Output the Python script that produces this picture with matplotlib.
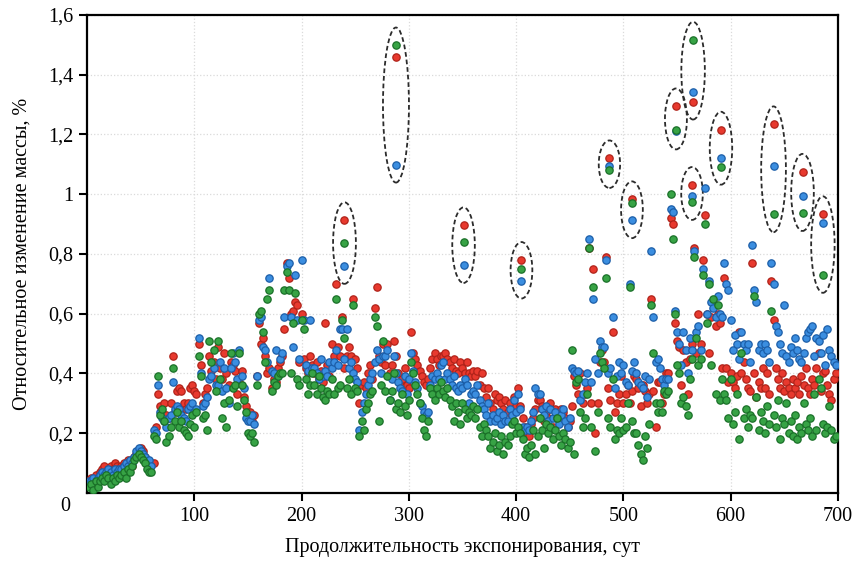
import matplotlib
matplotlib.use("Agg")
import matplotlib.pyplot as plt
from matplotlib.patches import Ellipse

plt.rcParams['font.family'] = ['Liberation Serif', 'DejaVu Serif']

# Measurement days (exposure duration, days)
days = [
    2, 4, 6, 8, 10, 12, 14, 16, 18, 20, 22, 24, 26, 28, 30,
    32, 34, 36, 38, 40, 42, 44, 46, 48, 50, 52, 54, 56, 58, 60,
    62, 64, 66, 68, 70, 72, 74, 76, 78, 80, 82, 84, 86, 88, 90,
    92, 94, 96, 98, 100, 102, 104, 106, 108, 110, 112, 114, 116, 118, 120,
    122, 124, 126, 128, 130, 132, 134, 136, 138, 140, 142, 144, 146, 148, 150,
    152, 154, 156, 158, 160, 162, 164, 166, 168, 170, 172, 174, 176, 178, 180,
    182, 184, 186, 188, 190, 192, 194, 196, 198, 200, 202, 204, 206, 208, 210,
    212, 214, 216, 218, 220, 222, 224, 226, 228, 230, 232, 234, 236, 238, 240,
    242, 244, 246, 248, 250, 252, 254, 256, 258, 260, 262, 264, 266, 268, 270,
    272, 274, 276, 278, 280, 282, 284, 286, 288, 290, 292, 294, 296, 298, 300,
    302, 304, 306, 308, 310, 312, 314, 316, 318, 320, 322, 324, 326, 328, 330,
    332, 334, 336, 338, 340, 342, 344, 346, 348, 350, 352, 354, 356, 358, 360,
    362, 364, 366, 368, 370, 372, 374, 376, 378, 380, 382, 384, 386, 388, 390,
    392, 394, 396, 398, 400, 402, 404, 406, 408, 410, 412, 414, 416, 418, 420,
    422, 424, 426, 428, 430, 432, 434, 436, 438, 440, 442, 444, 446, 448, 450,
    452, 454, 456, 458, 460, 462, 464, 466, 468, 470, 472, 474, 476, 478, 480,
    482, 484, 486, 488, 490, 492, 494, 496, 498, 500, 502, 504, 506, 508, 510,
    512, 514, 516, 518, 520, 522, 524, 526, 528, 530, 532, 534, 536, 538, 540,
    542, 544, 546, 548, 550, 552, 554, 556, 558, 560, 562, 564, 566, 568, 570,
    572, 574, 576, 578, 580, 582, 584, 586, 588, 590, 592, 594, 596, 598, 600,
    602, 604, 606, 608, 610, 612, 614, 616, 618, 620, 622, 624, 626, 628, 630,
    632, 634, 636, 638, 640, 642, 644, 646, 648, 650, 652, 654, 656, 658, 660,
    662, 664, 666, 668, 670, 672, 674, 676, 678, 680, 682, 684, 686, 688, 690,
    692, 694, 696, 698,
]

# Relative mass change, % (three sample groups)
mass_red = [
    .04, .05, .04, .06, .05, .07, .08, .09, .07, .08, .09, .08, .10, .09, .08,
    .09, .10, .09, .11, .10, .09, .12, .13, .14, .15, .14, .12, .11, .10, .10,
    .10, .22, .33, .29, .27, .30, .26, .25, .30, .46, .27, .34, .35, .34, .30,
    .28, .30, .35, .36, .34, .33, .50, .43, .30, .33, .35, .46, .41, .44, .38,
    .49, .42, .38, .47, .40, .36, .44, .43, .41, .33, .37, .41, .32, .29, .27,
    .27, .24, .26, .39, .57, .50, .52, .46, .40, .42, .35, .38, .37, .42, .44,
    .46, .55, .77, .72, .60, .61, .64, .63, .44, .60, .45, .42, .40, .46, .43,
    .40, .44, .38, .41, .37, .57, .43, .39, .50, .46, .70, .49, .46, .59, .42,
    .46, .49, .46, .65, .45, .42, .30, .36, .37, .35, .40, .43, .38, .62, .69,
    .46, .44, .50, .43, .50, .40, .43, .51, .46, .40, .37, .38, .42, .36, .35,
    .54, .47, .45, .43, .41, .39, .37, .36, .38, .42, .45, .47, .45, .43, .46,
    .46, .47, .45, .44, .42, .45, .41, .40, .44, .42, .40, .44, .40, .39, .41,
    .39, .41, .36, .40, .35, .32, .35, .30, .28, .33, .31, .32, .30, .28, .31,
    .27, .30, .26, .32, .29, .35, .29, .25, .22, .20, .19, .23, .25, .28, .31,
    .31, .29, .24, .27, .25, .30, .22, .28, .26, .24, .28, .27, .25, .22, .24,
    .29, .39, .36, .33, .40, .30, .33, .35, .82, .30, .75, .20, .30, .44, .48,
    .44, .79, .35, .31, .54, .27, .30, .33, .39, .30, .33, .36, .30, .34, .39,
    .38, .35, .29, .36, .34, .30, .33, .65, .34, .22, .37, .37, .30, .33, .40,
    .40, .92, .90, .57, .51, .49, .36, .48, .44, .33, .45, .50, .82, .47, .60,
    .50, .78, .93, .60, .47, .59, .64, .56, .60, .57, .42, .72, .42, .37, .40,
    .37, .35, .39, .54, .40, .44, .38, .35, .34, .77, .40, .32, .37, .35, .42,
    .35, .40, .33, .71, .58, .42, .38, .35, .40, .34, .37, .35, .33, .38, .35,
    .37, .33, .39, .36, .42, .35, .33, .38, .36, .42, .47, .34, .40, .41, .36,
    .33, .31, .38, .40,
]
mass_blue = [
    .04, .04, .05, .04, .05, .06, .07, .06, .07, .08, .07, .06, .08, .07, .08,
    .08, .09, .10, .09, .11, .10, .12, .14, .15, .14, .13, .12, .10, .11, .09,
    .21, .20, .36, .27, .25, .24, .22, .25, .26, .37, .28, .29, .28, .26, .25,
    .24, .28, .29, .30, .27, .28, .52, .40, .29, .30, .32, .38, .39, .42, .36,
    .36, .44, .34, .42, .35, .30, .42, .47, .44, .38, .48, .39, .35, .25, .24,
    .24, .26, .23, .39, .58, .59, .49, .48, .44, .72, .41, .40, .48, .39, .45,
    .47, .59, .76, .77, .59, .49, .73, .58, .45, .78, .58, .43, .41, .58, .42,
    .42, .40, .38, .45, .39, .41, .39, .44, .42, .44, .48, .43, .55, .55, .45,
    .55, .42, .44, .40, .38, .37, .21, .27, .30, .33, .36, .38, .40, .44, .48,
    .45, .40, .46, .46, .48, .31, .38, .46, .40, .37, .35, .34, .39, .33, .38,
    .47, .41, .37, .35, .30, .29, .27, .26, .27, .36, .39, .38, .40, .38, .43,
    .44, .38, .40, .38, .36, .39, .35, .34, .36, .35, .38, .36, .30, .33, .34,
    .33, .36, .31, .29, .28, .26, .30, .24, .26, .24, .25, .27, .23, .26, .24,
    .24, .28, .26, .31, .27, .33, .28, .22, .21, .22, .21, .24, .27, .35, .33,
    .33, .28, .26, .29, .24, .28, .25, .27, .25, .23, .26, .28, .24, .22, .25,
    .42, .41, .40, .41, .31, .33, .37, .40, .85, .37, .65, .45, .40, .51, .49,
    .49, .78, .40, .42, .59, .35, .39, .44, .40, .43, .37, .36, .70, .41, .44,
    .40, .37, .36, .35, .39, .32, .38, .81, .59, .44, .45, .42, .38, .36, .38,
    .38, .95, .94, .61, .54, .50, .43, .54, .48, .40, .52, .48, .81, .54, .56,
    .48, .75, 1.02, .60, .71, .64, .62, .59, .66, .60, .59, .77, .70, .68, .58,
    .48, .53, .50, .45, .54, .50, .48, .50, .44, .83, .68, .64, .48, .50, .47,
    .50, .48, .44, .77, .70, .56, .54, .50, .47, .63, .46, .44, .49, .47, .52,
    .48, .45, .44, .47, .52, .54, .55, .56, .46, .52, .51, .47, .53, .43, .55,
    .48, .46, .44, .43,
]
mass_green = [
    .02, .03, .01, .04, .02, .04, .05, .04, .06, .05, .03, .05, .04, .06, .05,
    .06, .07, .05, .08, .07, .09, .11, .12, .13, .12, .11, .10, .08, .07, .07,
    .19, .18, .39, .26, .28, .24, .17, .19, .22, .42, .24, .27, .22, .24, .21,
    .20, .19, .23, .26, .22, .27, .46, .39, .25, .26, .21, .51, .44, .48, .34,
    .51, .38, .25, .30, .22, .31, .47, .35, .36, .29, .47, .36, .31, .27, .20,
    .19, .20, .17, .36, .60, .61, .54, .44, .65, .68, .34, .37, .36, .39, .40,
    .40, .68, .74, .68, .40, .57, .67, .38, .36, .58, .55, .38, .33, .36, .40,
    .36, .33, .39, .35, .32, .31, .34, .33, .38, .33, .65, .35, .36, .58, .52,
    .35, .38, .33, .63, .35, .34, .19, .24, .21, .28, .30, .33, .34, .59, .56,
    .24, .36, .51, .34, .39, .31, .34, .40, .28, .30, .27, .33, .29, .26, .31,
    .44, .40, .36, .33, .30, .25, .21, .19, .24, .35, .33, .31, .35, .33, .37,
    .34, .32, .35, .31, .29, .24, .30, .27, .23, .30, .28, .25, .27, .26, .29,
    .25, .28, .22, .19, .23, .21, .19, .15, .17, .20, .14, .16, .19, .13, .17,
    .16, .19, .23, .24, .20, .22, .20, .18, .13, .15, .12, .16, .21, .13, .19,
    .25, .21, .15, .23, .20, .22, .18, .21, .25, .19, .16, .20, .18, .15, .17,
    .48, .13, .37, .38, .27, .22, .25, .33, .82, .22, .69, .14, .27, .47, .44,
    .42, .72, .25, .22, .38, .18, .21, .20, .25, .21, .22, .30, .69, .24, .20,
    .20, .16, .13, .11, .19, .15, .23, .63, .47, .30, .27, .30, .27, .34, .33,
    .34, 1.00, .85, .60, .43, .40, .30, .32, .29, .26, .38, .45, .79, .52, .43,
    .45, .73, .90, .57, .70, .43, .65, .33, .63, .31, .38, .33, .31, .25, .38,
    .23, .27, .33, .18, .47, .25, .28, .22, .26, .25, .66, .32, .21, .27, .24,
    .20, .29, .23, .61, .26, .22, .31, .18, .25, .23, .30, .20, .24, .19, .26,
    .18, .22, .20, .30, .23, .21, .25, .19, .33, .21, .38, .35, .23, .20, .22,
    .29, .21, .18, .19,
]

# Anomalous readings (circled on the chart)
peak_days = [240, 288, 351, 405, 487, 508, 549, 565, 564, 591, 640, 667, 686]
peak_red = [0.913, 1.461, 0.896, 0.780, 1.120, 0.983, 1.294, 1.310, 1.031, 1.216, 1.234, 1.075, 0.933]
peak_blue = [0.760, 1.099, 0.763, 0.711, 1.093, 0.913, 1.210, 1.341, 0.994, 1.120, 1.094, 0.994, 0.903]
peak_green = [0.838, 1.498, 0.840, 0.751, 1.081, 0.972, 1.215, 1.517, 0.974, 1.092, 0.933, 0.937, 0.730]

x_ticks = [100, 200, 300, 400, 500, 600, 700]
y_ticks = [0.2, 0.4, 0.6, 0.8, 1.0, 1.2, 1.4, 1.6]
y_tick_labels = ['0,2', '0,4', '0,6', '0,8', '1', '1,2', '1,4', '1,6']

styles = [
    ('#e8392e', '#b0231a'),   # red group
    ('#3b8ee0', '#1c5ea8'),   # blue group
    ('#37a345', '#1a7028'),   # green group
]

fig = plt.figure(figsize=(8.55, 5.61), dpi=100)
ax = fig.add_axes([0.1018, 0.1212, 0.8782, 0.8521])

ax.set_xlim(0, 700)
ax.set_ylim(0, 1.6)

ax.grid(True, color='#dadada', linestyle=':', linewidth=0.9, zorder=0)
ax.set_axisbelow(True)

# Dashed ellipses around the anomalous triples
for d, r, b, g in zip(peak_days, peak_red, peak_blue, peak_green):
    lo, hi = min(r, b, g), max(r, b, g)
    h = hi - lo + 0.12
    w = 18 + 12 * h
    ax.add_patch(Ellipse((d, (lo + hi) / 2), w, h, fill=False,
                         edgecolor='#2b2b2b', linewidth=1.3,
                         linestyle=(0, (2.6, 1.6)), zorder=2))

series = [(mass_red, peak_red), (mass_blue, peak_blue), (mass_green, peak_green)]
for (vals, peaks), (fc, ec) in zip(series, styles):
    ax.scatter(days, vals, s=28, facecolor=fc, edgecolor=ec, linewidth=0.9, zorder=3)
    ax.scatter(peak_days, peaks, s=28, facecolor=fc, edgecolor=ec, linewidth=0.9, zorder=3)

ax.set_xticks(x_ticks)
ax.set_yticks(y_ticks)
ax.set_yticklabels(y_tick_labels)
ax.tick_params(axis='both', direction='out', length=6, width=1.5,
               labelsize=14.5, colors='black', pad=4)
for sp in ax.spines.values():
    sp.set_linewidth(1.6)
    sp.set_color('black')

ax.annotate('0', xy=(0, 0), xycoords='axes fraction', xytext=(-15.5, -10),
            textcoords='offset points', ha='center', va='center', fontsize=14.5)

ax.set_xlabel('Продолжительность экспонирования, сут', fontsize=14.5, labelpad=9)
ax.set_ylabel('Относительное изменение массы, %', fontsize=14.5, labelpad=12)

fig.savefig('out.png', dpi=100)
